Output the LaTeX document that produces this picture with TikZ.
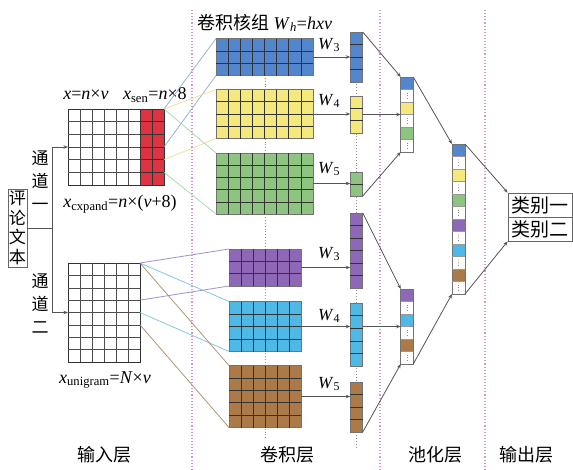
\documentclass[tikz,border=0pt]{standalone}
\usepackage{fontspec}
\setmainfont{Liberation Serif}
\newfontfamily\cjk{Noto Sans CJK SC}
\usetikzlibrary{calc,arrows.meta}

\definecolor{cblue}{RGB}{84,134,205}
\definecolor{cyellow}{RGB}{245,232,125}
\definecolor{cgreen}{RGB}{140,196,128}
\definecolor{cred}{RGB}{222,52,66}
\definecolor{cpurple}{RGB}{142,104,182}
\definecolor{ccyan}{RGB}{78,184,230}
\definecolor{cbrown}{RGB}{172,122,72}
\definecolor{lblue}{RGB}{130,165,220}
\definecolor{lyellow}{RGB}{232,222,140}
\definecolor{lgreen}{RGB}{160,210,160}
\definecolor{lpurple}{RGB}{150,120,195}
\definecolor{lcyan}{RGB}{110,190,220}
\definecolor{lbrown}{RGB}{165,130,95}
\definecolor{sepcol}{RGB}{215,150,200}
\definecolor{wirecol}{RGB}{85,85,85}

% inner horizontal lines of a cell block: [style]{node}{rows}
\newcommand\rowlines[3][gline]{%
  \pgfmathtruncatemacro\nlastrow{#3-1}%
  \foreach \i in {1,...,\nlastrow}{%
    \draw[#1] ($(#2.north west)!\i/#3!(#2.south west)$) -- ($(#2.north east)!\i/#3!(#2.south east)$);}}
% inner vertical lines of a cell block: [style]{node}{cols}
\newcommand\collines[3][gline]{%
  \pgfmathtruncatemacro\nlastcol{#3-1}%
  \foreach \i in {1,...,\nlastcol}{%
    \draw[#1] ($(#2.north west)!\i/#3!(#2.north east)$) -- ($(#2.south west)!\i/#3!(#2.south east)$);}}
% pooled column: {node}{cells}{colour list}
\newcommand\poolcells[3]{%
  \foreach \c [count=\k from 0] in {#3}{%
    \pgfmathsetmacro\ka{\k/#2}%
    \pgfmathsetmacro\kb{(\k+1)/#2}%
    \fill[\c] ($(#1.north west)!\ka!(#1.south west)$) rectangle ($(#1.north east)!\kb!(#1.south east)$);
    \ifodd\k
      \pgfmathsetmacro\kc{(\k+0.25)/#2}%
      \pgfmathsetmacro\kd{(\k+0.75)/#2}%
      \draw[black!45,dotted,line width=0.8pt] ($(#1.north)!\kc!(#1.south)$) -- ($(#1.north)!\kd!(#1.south)$);
    \fi}
  \draw[black!55,line width=0.6pt] (#1.north west) rectangle (#1.south east);
  \rowlines[black!40,line width=0.4pt]{#1}{#2}}

\begin{document}
\begin{tikzpicture}[x=1pt,y=-1pt,
  lay/.style={rectangle,inner sep=0,outer sep=0},
  inmat/.style={lay,draw=black!80,line width=0.7pt,fill=white},
  kern/.style={lay,draw=black!55,line width=0.6pt,fill=#1},
  gline/.style={black!70,line width=0.45pt},
  kline/.style={black!80,line width=0.55pt},
  wire/.style={draw=wirecol,line width=0.8pt},
  arr/.style={wire,-{Stealth[length=4.5pt,width=3.5pt]}},
  feed/.style={line width=0.8pt,draw=#1,opacity=0.85},
  sepline/.style={sepcol,dotted,line width=1.1pt},
  axis/.style={black!45,dotted,line width=0.9pt},
  cn/.style={font=\cjk\fontsize{17}{23}\selectfont,inner sep=0},
  lab/.style={font=\fontsize{18}{20}\selectfont,inner sep=0},
  wlab/.style={font=\fontsize{17}{20}\selectfont,inner sep=0},
  outbox/.style={draw=black!60,line width=0.8pt,inner sep=0,minimum width=64,minimum height=24,font=\cjk\fontsize{19}{20}\selectfont},
]
\useasboundingbox (0,0) rectangle (573,469);

% layer separators
\draw[sepline] (192,10) -- (192,469);
\draw[sepline] (380,10) -- (380,469);
\draw[sepline] (485,10) -- (485,469);
% centre axes of the kernels and feature columns
\draw[axis] (265,40) -- (265,440);
\draw[axis] (356.5,32) -- (356.5,448);

% ---------- input layer ----------
\node[inmat,minimum width=72,minimum height=76] (inA) at (104,147) {};
\node[lay,draw=black!80,line width=0.7pt,fill=cred,minimum width=24,minimum height=76] (sen) at (152,147) {};
\collines{inA}{6}\rowlines{inA}{6}
\collines[kline]{sen}{2}\rowlines[kline]{sen}{6}
\node[inmat,minimum width=72,minimum height=99] (inB) at (104,312.5) {};
\collines{inB}{6}\rowlines{inB}{8}

\node[lab] (xa) at (125,95) {\textit{x}=\textit{n}×\textit{v}\;\; \textit{x}\textsubscript{sen}=\textit{n}×8};
\node[lab] (xc) at (120,204) {\textit{x}\textsubscript{cxpand}=\textit{n}×(\textit{v}+8)};
\node[lab] (xu) at (105,380) {\textit{x}\textsubscript{unigram}=\textit{N}×\textit{v}};

\node[draw=black!60,line width=0.8pt,minimum width=19,minimum height=78,inner sep=0,align=center,
      font=\cjk\fontsize{17}{19.5}\selectfont] (src) at (17.5,228) {评\\论\\文\\本};
\node[cn,align=center] (ch1) at (40,181) {通\\道\\一};
\node[cn,align=center] (ch2) at (40,304) {通\\道\\二};
\coordinate (split) at (52,228);
\draw[wire] (src.east) -- (split);
\draw[arr] (split) |- (inA.west);
\draw[arr] (split) |- (inB.west);

% ---------- convolution layer ----------
\node[kern=cblue,minimum width=97,minimum height=37] (k3a) at (264.5,57) {};
\node[kern=cyellow,minimum width=97,minimum height=49] (k4a) at (264.5,114) {};
\node[kern=cgreen,minimum width=97,minimum height=61] (k5a) at (264.5,183.5) {};
\node[kern=cpurple,minimum width=72,minimum height=37] (k3b) at (265,267.5) {};
\node[kern=ccyan,minimum width=72,minimum height=50] (k4b) at (265,326.5) {};
\node[kern=cbrown,minimum width=72,minimum height=62] (k5b) at (265,396.5) {};

% receptive windows feeding each kernel
\begin{scope}[on background layer/.style={}]
\draw[feed=lblue] (sen.north east) -- (k3a.north west);
\draw[feed=lblue] ($(sen.north east)!3/6!(sen.south east)$) -- (k3a.south west);
\draw[feed=lyellow] (sen.north east) -- (k4a.north west);
\draw[feed=lyellow] ($(sen.north east)!4/6!(sen.south east)$) -- (k4a.south west);
\draw[feed=lgreen] (sen.north east) -- (k5a.north west);
\draw[feed=lgreen] ($(sen.north east)!5/6!(sen.south east)$) -- (k5a.south west);
\draw[feed=lpurple] (inB.north east) -- (k3b.north west);
\draw[feed=lpurple] ($(inB.north east)!3/8!(inB.south east)$) -- (k3b.south west);
\draw[feed=lcyan] (inB.north east) -- (k4b.north west);
\draw[feed=lcyan] ($(inB.north east)!4/8!(inB.south east)$) -- (k4b.south west);
\draw[feed=lbrown] (inB.north east) -- (k5b.north west);
\draw[feed=lbrown] ($(inB.north east)!5/8!(inB.south east)$) -- (k5b.south west);
\end{scope}

\collines[kline]{k3a}{8}\rowlines[kline]{k3a}{3}
\collines[kline]{k4a}{8}\rowlines[kline]{k4a}{4}
\collines[kline]{k5a}{8}\rowlines[kline]{k5a}{5}
\collines[kline]{k3b}{6}\rowlines[kline]{k3b}{3}
\collines[kline]{k4b}{6}\rowlines[kline]{k4b}{4}
\collines[kline]{k5b}{6}\rowlines[kline]{k5b}{5}

\node[lab,anchor=west] (title) at (197,23) {{\cjk 卷积核组} \textit{W}\textsubscript{\textit{h}}=\textit{hxv}};

% feature columns
\node[kern=cblue,minimum width=12.5,minimum height=50] (v3a) at (356.5,57) {};
\node[kern=cyellow,minimum width=12.5,minimum height=37] (v4a) at (356.5,114.5) {};
\node[kern=cgreen,minimum width=12.5,minimum height=24] (v5a) at (356.5,184) {};
\node[kern=cpurple,minimum width=12.5,minimum height=75] (v3b) at (356.5,250.5) {};
\node[kern=ccyan,minimum width=12.5,minimum height=63] (v4b) at (356.5,334.5) {};
\node[kern=cbrown,minimum width=12.5,minimum height=50] (v5b) at (356.5,407) {};
\rowlines[kline]{v3a}{4}\rowlines[kline]{v4a}{3}\rowlines[kline]{v5a}{2}
\rowlines[kline]{v3b}{6}\rowlines[kline]{v4b}{5}\rowlines[kline]{v5b}{4}

\draw[arr] (k3a.east) -- (k3a.east -| v3a.west);
\draw[arr] (k4a.east) -- (k4a.east -| v4a.west);
\draw[arr] (k5a.east) -- (k5a.east -| v5a.west);
\draw[arr] (k3b.east) -- (k3b.east -| v3b.west);
\draw[arr] (k4b.east) -- (k4b.east -| v4b.west);
\draw[arr] (k5b.east) -- (k5b.east -| v5b.west);

\node[wlab] (w3a) at (329,45) {\textit{W}\textsubscript{3}};
\node[wlab] (w4a) at (329,101) {\textit{W}\textsubscript{4}};
\node[wlab] (w5a) at (329,169) {\textit{W}\textsubscript{5}};
\node[wlab] (w3b) at (329,254) {\textit{W}\textsubscript{3}};
\node[wlab] (w4b) at (329,316) {\textit{W}\textsubscript{4}};
\node[wlab] (w5b) at (329,384) {\textit{W}\textsubscript{5}};

% ---------- pooling layer ----------
\node[lay,minimum width=12.5,minimum height=75] (pA) at (407,114.5) {};
\node[lay,minimum width=12.5,minimum height=75] (pB) at (407,326.5) {};
\node[lay,minimum width=13,minimum height=150] (big) at (458.5,219) {};
\poolcells{pA}{6}{cblue,white,cyellow,white,cgreen,white}
\poolcells{pB}{6}{cpurple,white,ccyan,white,cbrown,white}
\poolcells{big}{12}{cblue,white,cyellow,white,cgreen,white,cpurple,white,ccyan,white,cbrown,white}

\draw[arr] (v3a.north east) -- (pA.north west);
\draw[arr] (pA.west -| v4a.east) -- (pA.west);
\draw[arr] (v5a.south east) -- (pA.south west);
\draw[arr] (v3b.north east) -- (pB.north west);
\draw[arr] (pB.west -| v4b.east) -- (pB.west);
\draw[arr] (v5b.south east) -- (pB.south west);
\draw[arr] (pA.north east) -- (big.north west);
\draw[arr] (pB.south east) -- (big.south west);

% ---------- output layer ----------
\node[outbox] (c1) at (540,205) {类别一};
\node[outbox] (c2) at (540,229) {类别二};
\draw[arr] (big.north east) -- (c1.north west);
\draw[arr] (big.south east) -- (c2.south west);

% layer captions
\node[cn,font=\cjk\fontsize{18}{20}\selectfont] (l1) at (104,455) {输入层};
\node[cn,font=\cjk\fontsize{18}{20}\selectfont] (l2) at (287,455) {卷积层};
\node[cn,font=\cjk\fontsize{18}{20}\selectfont] (l3) at (435,455) {池化层};
\node[cn,font=\cjk\fontsize{18}{20}\selectfont] (l4) at (526,455) {输出层};
\end{tikzpicture}
\end{document}
